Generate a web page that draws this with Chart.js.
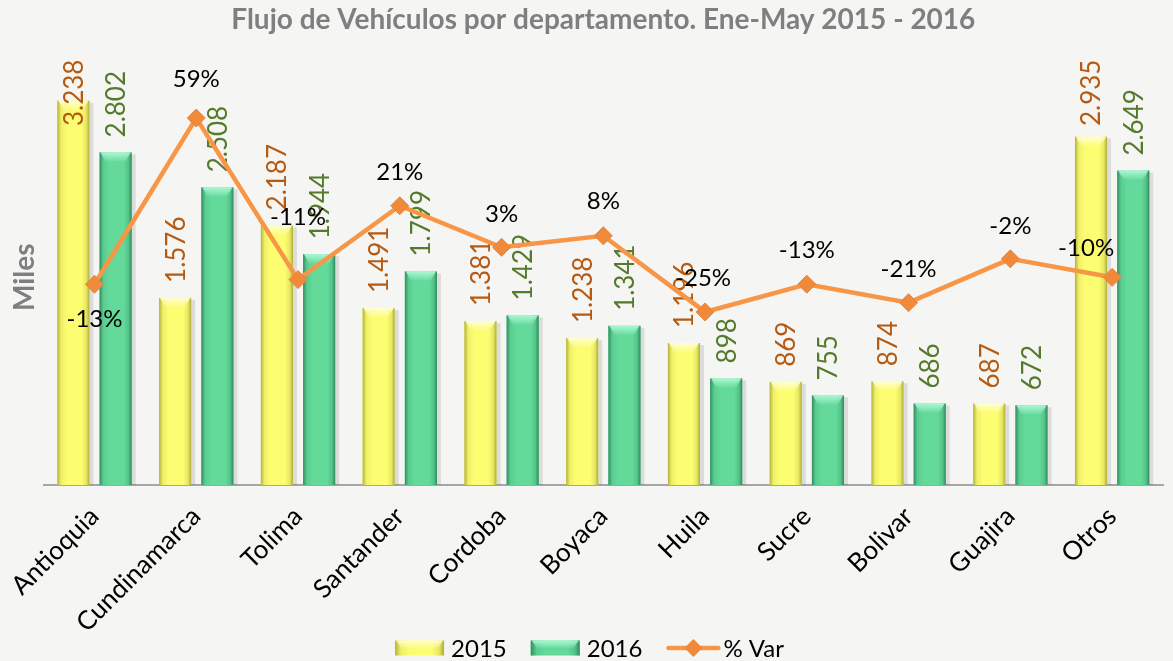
<!DOCTYPE html>
<html>
<head>
<meta charset="utf-8">
<script src="https://cdn.jsdelivr.net/npm/chart.js@4.4.1/dist/chart.umd.min.js"></script>
<style>
  html, body { margin: 0; padding: 0; background: #f5f5f3; }
  #wrap { width: 1173px; height: 661px; }
</style>
</head>
<body>
<div id="wrap"><canvas id="c" width="1173" height="661"></canvas></div>
<script>
// ---- data ----
const categories = ['Antioquia', 'Cundinamarca', 'Tolima', 'Santander', 'Cordoba', 'Boyaca', 'Huila', 'Sucre', 'Bolivar', 'Guajira', 'Otros'];
const values2015 = [3238, 1576, 2187, 1491, 1381, 1238, 1196, 869, 874, 687, 2935];
const values2016 = [2802, 2508, 1944, 1799, 1429, 1341, 898, 755, 686, 672, 2649];
const pctVar = [-13, 59, -11, 21, 3, 8, -25, -13, -21, -2, -10];
const seriesNames = ['2015', '2016', '% Var'];
const titleText = 'Flujo de Vehículos por departamento. Ene-May 2015 - 2016';
const yTitle = 'Miles';

// ---- styles ----
const FONT = 'Lato, "Open Sans", sans-serif';
const BG = '#f5f5f3';
const YELLOW = { base: '#fdfd72', dark: [165, 165, 50], light: [255, 255, 215] };
const GREEN = { base: '#63d99a', dark: [40, 130, 85], light: [175, 250, 215] };
const LINE = '#f79646';
const LBL2015 = '#b65a12';
const LBL2016 = '#547a2c';
// percent label offsets [dx, dy] relative to point (text centre)
const pctOffsets = [[0, 35], [0, -39], [0, -62], [0, -33], [0, -33], [0, -34], [-2, -34], [0, -34], [0, -33], [0, -33], [-26, -29]];

function fmtThousands(v) {
  return String(v).replace(/\B(?=(\d{3})+(?!\d))/g, '.');
}
function rgba(c, a) { return 'rgba(' + c[0] + ',' + c[1] + ',' + c[2] + ',' + a + ')'; }

function shadeRect(ctx, x0, y0, w, h, pal) {
  ctx.save();
  const g = ctx.createLinearGradient(x0, 0, x0 + w, 0);
  g.addColorStop(0, rgba(pal.dark, 0.85));
  g.addColorStop(0.12, rgba(pal.dark, 0.15));
  g.addColorStop(0.3, rgba(pal.dark, 0));
  g.addColorStop(0.75, rgba(pal.dark, 0));
  g.addColorStop(0.9, rgba(pal.dark, 0.25));
  g.addColorStop(1, rgba(pal.dark, 0.9));
  ctx.fillStyle = g;
  ctx.fillRect(x0, y0, w, h);
  const bev = Math.min(9, h / 2);
  const gt = ctx.createLinearGradient(0, y0, 0, y0 + bev);
  gt.addColorStop(0, rgba(pal.light, 0.95));
  gt.addColorStop(1, rgba(pal.light, 0.1));
  ctx.fillStyle = gt;
  ctx.beginPath();
  ctx.moveTo(x0 + 1, y0);
  ctx.lineTo(x0 + w - 1, y0);
  ctx.lineTo(x0 + w - 6, y0 + bev);
  ctx.lineTo(x0 + 6, y0 + bev);
  ctx.closePath();
  ctx.fill();
  ctx.restore();
}

const bgPlugin = {
  id: 'bg',
  beforeDraw(chart) {
    const ctx = chart.ctx;
    ctx.save();
    ctx.fillStyle = BG;
    ctx.fillRect(0, 0, chart.width, chart.height);
    ctx.restore();
  }
};

const barDeco = {
  id: 'barDeco',
  beforeDatasetDraw(chart, args) {
    const meta = args.meta;
    if (meta.type !== 'bar') return;
    const ctx = chart.ctx;
    ctx.save();
    ctx.fillStyle = 'rgba(0,0,0,0.10)';
    meta.data.forEach(el => {
      const w = el.width, x0 = el.x - w / 2;
      ctx.fillRect(x0 + 2, el.y + 2, w + 2, el.base - el.y - 2);
    });
    ctx.restore();
  },
  afterDatasetDraw(chart, args) {
    const meta = args.meta;
    if (meta.type !== 'bar') return;
    const ctx = chart.ctx;
    const pal = args.index === 0 ? YELLOW : GREEN;
    const color = args.index === 0 ? LBL2015 : LBL2016;
    const vals = args.index === 0 ? values2015 : values2016;
    meta.data.forEach((el) => {
      const w = el.width, x0 = el.x - w / 2;
      shadeRect(ctx, x0, el.y, w, el.base - el.y, pal);
    });
    ctx.save();
    ctx.font = '26px ' + FONT;
    ctx.fillStyle = color;
    ctx.textAlign = 'left';
    ctx.textBaseline = 'middle';
    const top = chart.chartArea.top - 10;
    meta.data.forEach((el, i) => {
      const txt = fmtThousands(vals[i]);
      const tw = ctx.measureText(txt).width;
      let start = el.y - 15;
      if (start - tw < top) start = top + tw;
      ctx.save();
      ctx.translate(el.x + 1, start);
      ctx.rotate(-Math.PI / 2);
      ctx.fillText(txt, 0, 0);
      ctx.restore();
    });
    ctx.restore();
  },
  afterDatasetsDraw(chart) {
    const meta = chart.getDatasetMeta(2);
    const ctx = chart.ctx;
    ctx.save();
    ctx.font = '24px ' + FONT;
    ctx.fillStyle = '#000000';
    ctx.textAlign = 'center';
    ctx.textBaseline = 'middle';
    meta.data.forEach((el, i) => {
      const o = pctOffsets[i];
      ctx.fillText(pctVar[i] + '%', el.x + o[0], el.y + o[1]);
    });
    ctx.restore();
  },
  afterDraw(chart) {
    // custom legend (bottom, centred)
    const ctx = chart.ctx;
    ctx.save();
    ctx.font = '24px ' + FONT;
    const boxW = 49, boxH = 15, gapText = 7, gapItem = 24, lineW = 54;
    const widths = seriesNames.map((n, i) => (i < 2 ? boxW + gapText : lineW + 3) + ctx.measureText(n).width);
    const total = widths.reduce((a, b) => a + b, 0) + gapItem * (widths.length - 1);
    let x = chart.width / 2 - total / 2 + 3;
    const cy = chart.height - 13;
    seriesNames.forEach((n, i) => {
      if (i < 2) {
        const pal = i === 0 ? YELLOW : GREEN;
        ctx.fillStyle = pal.base;
        ctx.fillRect(x, cy - boxH / 2, boxW, boxH);
        shadeRect(ctx, x, cy - boxH / 2, boxW, boxH, pal);
        x += boxW + gapText;
      } else {
        ctx.strokeStyle = LINE;
        ctx.lineWidth = 4.5;
        ctx.lineCap = 'round';
        ctx.beginPath();
        ctx.moveTo(x + 2, cy); ctx.lineTo(x + lineW - 2, cy);
        ctx.stroke();
        const cx = x + lineW / 2, r = 9;
        ctx.fillStyle = '#f08a3a';
        ctx.beginPath();
        ctx.moveTo(cx, cy - r); ctx.lineTo(cx + r, cy); ctx.lineTo(cx, cy + r); ctx.lineTo(cx - r, cy);
        ctx.closePath();
        ctx.fill();
        x += lineW + 3;
      }
      ctx.fillStyle = '#000000';
      ctx.textAlign = 'left';
      ctx.textBaseline = 'middle';
      ctx.fillText(n, x, cy + 1);
      x += ctx.measureText(n).width + gapItem;
    });
    ctx.restore();
  }
};

new Chart(document.getElementById('c'), {
  type: 'bar',
  data: {
    labels: categories,
    datasets: [
      { label: seriesNames[0], data: values2015, backgroundColor: YELLOW.base, order: 1, yAxisID: 'y',
        barPercentage: 0.76, categoryPercentage: 0.83 },
      { label: seriesNames[1], data: values2016, backgroundColor: GREEN.base, order: 1, yAxisID: 'y',
        barPercentage: 0.76, categoryPercentage: 0.83 },
      { label: seriesNames[2], type: 'line', data: pctVar, yAxisID: 'y2', order: 0,
        borderColor: LINE, backgroundColor: '#f08a3a', borderWidth: 4.5,
        pointStyle: 'rectRot', pointRadius: 9, pointBorderColor: '#e8853a', pointBorderWidth: 1, tension: 0 }
    ]
  },
  options: {
    responsive: false,
    animation: false,
    devicePixelRatio: 1,
    layout: { padding: { left: 6, right: 4, top: 0, bottom: 24 } },
    plugins: {
      title: {
        display: true, text: titleText, color: '#7f7f7f', fullSize: false,
        font: { family: FONT, size: 28, weight: 'bold' },
        padding: { top: 3, bottom: 33 }
      },
      legend: { display: false },
      tooltip: { enabled: false }
    },
    scales: {
      x: {
        grid: { display: false },
        border: { display: true, color: '#a6a6a6', width: 2 },
        ticks: {
          color: '#000000', font: { family: FONT, size: 26 },
          autoSkip: false, maxRotation: 45, minRotation: 45, padding: 8
        },
        afterFit(scale) { scale.height = 152; scale.paddingLeft = 0; scale.paddingRight = 0; }
      },
      y: {
        min: 0, max: 3500,
        grid: { display: false, drawTicks: false },
        border: { display: false },
        ticks: { display: false },
        title: { display: true, text: yTitle, color: '#7f7f7f', font: { family: FONT, size: 28, weight: 'bold' }, padding: 2 }
      },
      y2: {
        min: -100, max: 80, display: false, position: 'right'
      }
    }
  },
  plugins: [bgPlugin, barDeco]
});
</script>
</body>
</html>
